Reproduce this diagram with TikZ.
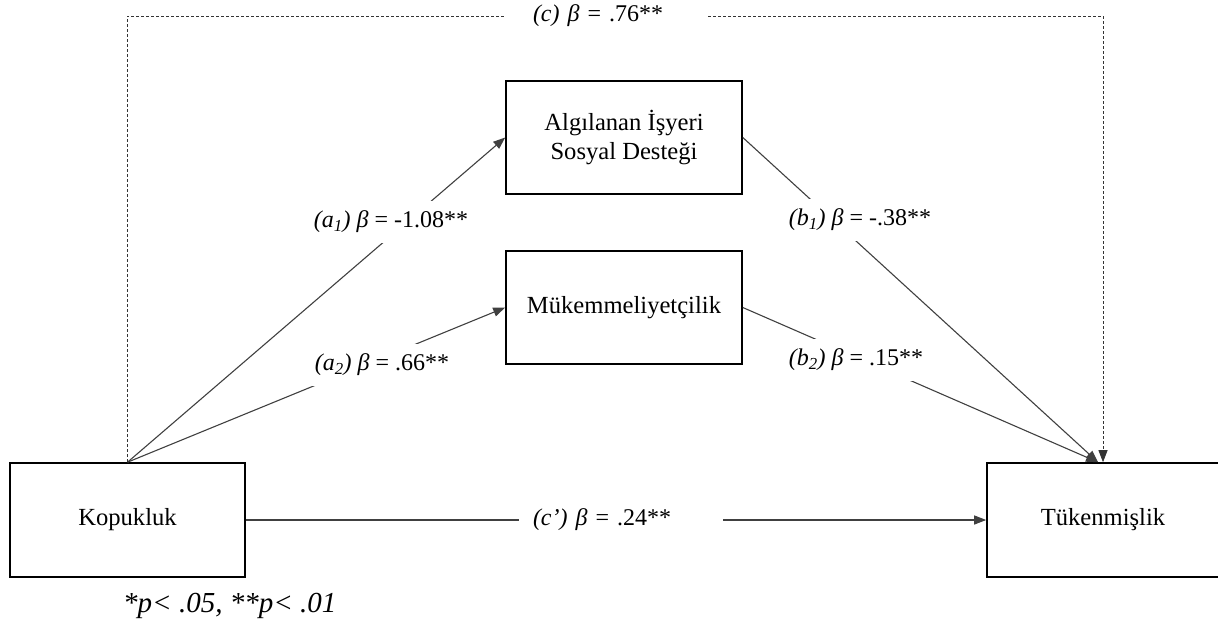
\documentclass[tikz,border=0pt]{standalone}
\usepackage{fontspec}
\setmainfont{Liberation Serif}
\usetikzlibrary{arrows.meta}
\begin{document}
\begin{tikzpicture}[x=1pt,y=-1pt,
  box/.style={draw=black, line width=1.6pt, minimum width=236pt, minimum height=113pt,
    inner sep=0pt, align=center, font=\fontsize{24.6}{29}\selectfont},
  conn/.style={draw=black!75, line width=1.1pt},
  tip/.style={-{Triangle[length=12pt,width=9pt]}},
  dashline/.style={draw=black!80, line width=0.8pt, dash pattern=on 3pt off 2pt},
  lab/.style={fill=white, inner xsep=6pt, inner ysep=10pt, font=\fontsize{24}{28}\selectfont},
  gaplab/.style={fill=white, inner ysep=4pt, align=left, font=\fontsize{24}{28}\selectfont}
]
\clip (0,0) rectangle (1218,630);
\node[box, minimum width=235pt, minimum height=114pt] (kop) at (127.5,520) {Kopukluk};
\node[box, minimum width=232pt, minimum height=114pt] (tuk) at (1103,520) {Tükenmişlik};
\node[box] (alg) at (624,137.5) {Algılanan İşyeri\\Sosyal Desteği};
\node[box] (muk) at (624,307.5) {Mükemmeliyetçilik};
\coordinate (tin) at ([xshift=-5pt]tuk.north);

\draw[conn,tip] (kop.north) -- (alg.west);
\draw[conn,tip] (kop.north) -- (muk.west);
\draw[conn,tip] (alg.east) -- (tin);
\draw[conn,tip] (muk.east) -- (tin);

\node[lab] (la1) at (391,222) {\textit{(a\textsubscript{1}) β} = -1.08**};
\node[lab] (la2) at (382,365) {\textit{(a\textsubscript{2}) β} = .66**};
\node[lab] (lb1) at (860,220) {\textit{(b\textsubscript{1}) β} = -.38**};
\node[lab] (lb2) at (856,360) {\textit{(b\textsubscript{2}) β} = .15**};

\node[gaplab, inner xsep=28pt, text width=147pt] (clab) at (606.5,16) {\textit{(c) β} = .76**};
\draw[dashline] (kop.north) |- (clab.west);
\draw[dashline,tip] (clab.east) -| (tuk.north);

\node[gaplab, inner xsep=14pt, text width=176pt] (cplab) at (621,520) {\textit{(c’) β} = .24**};
\draw[conn] (kop.east) -- (cplab.west);
\draw[conn,tip] (cplab.east) -- (tuk.west);

\node[anchor=west, inner sep=0pt, font=\fontsize{29}{32}\selectfont\itshape] (note) at (123,606) {*p< .05, **p< .01};
\end{tikzpicture}
\end{document}
